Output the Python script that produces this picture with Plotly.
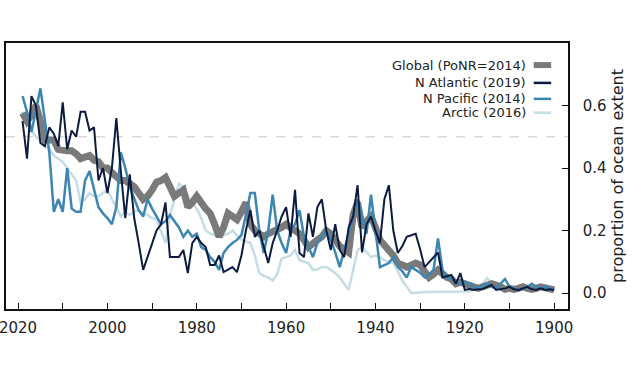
import plotly.graph_objects as go

years = list(range(1900, 2020))

global_ponr = [
    0.010, 0.012, 0.015, 0.020, 0.015, 0.012, 0.015, 0.020, 0.015, 0.012,
    0.015, 0.012, 0.020, 0.025, 0.030, 0.025, 0.020, 0.015, 0.020, 0.025,
    0.030, 0.035, 0.030, 0.045, 0.050, 0.065, 0.074, 0.060, 0.050, 0.070,
    0.090, 0.096, 0.090, 0.083, 0.090, 0.096, 0.120, 0.138, 0.160, 0.170,
    0.210, 0.245, 0.230, 0.210, 0.290, 0.250, 0.130, 0.140, 0.150, 0.170,
    0.190, 0.200, 0.180, 0.170, 0.155, 0.147, 0.170, 0.190, 0.200, 0.210,
    0.220, 0.210, 0.205, 0.200, 0.190, 0.180, 0.190, 0.200, 0.220, 0.290,
    0.260, 0.235, 0.245, 0.255, 0.210, 0.180, 0.220, 0.255, 0.270, 0.290,
    0.310, 0.290, 0.275, 0.330, 0.320, 0.310, 0.340, 0.370, 0.360, 0.355,
    0.330, 0.310, 0.300, 0.320, 0.340, 0.350, 0.360, 0.360, 0.370, 0.385,
    0.400, 0.400, 0.420, 0.425, 0.440, 0.435, 0.430, 0.445, 0.455, 0.455,
    0.460, 0.460, 0.490, 0.490, 0.490, 0.550, 0.600, 0.570, 0.550, 0.576,
]

n_atlantic = [
    0.010, 0.012, 0.010, 0.015, 0.010, 0.012, 0.020, 0.015, 0.010, 0.012,
    0.020, 0.015, 0.012, 0.010, 0.026, 0.020, 0.013, 0.012, 0.010, 0.013,
    0.010, 0.064, 0.030, 0.058, 0.055, 0.050, 0.130, 0.115, 0.100, 0.083,
    0.140, 0.190, 0.185, 0.180, 0.150, 0.128, 0.200, 0.345, 0.300, 0.160,
    0.200, 0.245, 0.220, 0.130, 0.345, 0.245, 0.210, 0.115, 0.138, 0.220,
    0.138, 0.200, 0.300, 0.275, 0.180, 0.255, 0.115, 0.128, 0.330, 0.180,
    0.275, 0.245, 0.200, 0.160, 0.096, 0.150, 0.200, 0.180, 0.265, 0.200,
    0.120, 0.067, 0.083, 0.075, 0.067, 0.120, 0.090, 0.090, 0.147, 0.160,
    0.180, 0.160, 0.064, 0.138, 0.115, 0.115, 0.115, 0.290, 0.220, 0.200,
    0.160, 0.120, 0.074, 0.160, 0.240, 0.380, 0.240, 0.390, 0.560, 0.400,
    0.320, 0.400, 0.360, 0.530, 0.520, 0.580, 0.580, 0.500, 0.520, 0.460,
    0.610, 0.470, 0.510, 0.530, 0.470, 0.480, 0.600, 0.630, 0.430, 0.550,
]

n_pacific = [
    0.010, 0.015, 0.020, 0.015, 0.020, 0.030, 0.020, 0.015, 0.010, 0.015,
    0.020, 0.045, 0.030, 0.015, 0.020, 0.030, 0.025, 0.015, 0.020, 0.030,
    0.035, 0.030, 0.040, 0.045, 0.050, 0.074, 0.175, 0.074, 0.060, 0.050,
    0.065, 0.074, 0.083, 0.050, 0.070, 0.083, 0.115, 0.096, 0.090, 0.083,
    0.200, 0.315, 0.190, 0.250, 0.300, 0.245, 0.190, 0.138, 0.083, 0.130,
    0.170, 0.200, 0.180, 0.160, 0.115, 0.150, 0.180, 0.265, 0.220, 0.200,
    0.128, 0.160, 0.200, 0.315, 0.200, 0.128, 0.200, 0.320, 0.320, 0.250,
    0.185, 0.170, 0.160, 0.147, 0.128, 0.074, 0.100, 0.115, 0.138, 0.147,
    0.190, 0.180, 0.200, 0.180, 0.210, 0.230, 0.250, 0.230, 0.220, 0.245,
    0.270, 0.300, 0.245, 0.265, 0.300, 0.340, 0.400, 0.450, 0.275, 0.220,
    0.240, 0.255, 0.275, 0.330, 0.390, 0.360, 0.260, 0.260, 0.270, 0.400,
    0.260, 0.300, 0.260, 0.450, 0.555, 0.655, 0.585, 0.515, 0.580, 0.630,
]

arctic = [
    0.020, 0.015, 0.010, 0.020, 0.025, 0.020, 0.015, 0.010, 0.015, 0.020,
    0.015, 0.010, 0.015, 0.020, 0.030, 0.048, 0.030, 0.020, 0.010, 0.005,
    0.005, 0.005, 0.003, 0.005, 0.004, 0.003, 0.005, 0.003, 0.003, 0.003,
    0.002, 0.001, 0.000, 0.020, 0.040, 0.070, 0.096, 0.100, 0.105, 0.115,
    0.120, 0.115, 0.130, 0.147, 0.138, 0.070, 0.010, 0.030, 0.050, 0.064,
    0.075, 0.083, 0.083, 0.075, 0.074, 0.096, 0.100, 0.105, 0.138, 0.120,
    0.115, 0.110, 0.060, 0.040, 0.050, 0.055, 0.064, 0.120, 0.160, 0.165,
    0.170, 0.185, 0.200, 0.190, 0.185, 0.180, 0.185, 0.190, 0.200, 0.240,
    0.270, 0.290, 0.310, 0.340, 0.350, 0.300, 0.250, 0.160, 0.200, 0.235,
    0.240, 0.250, 0.255, 0.265, 0.260, 0.250, 0.260, 0.245, 0.275, 0.300,
    0.330, 0.320, 0.310, 0.310, 0.320, 0.300, 0.290, 0.360, 0.380, 0.400,
    0.420, 0.430, 0.440, 0.460, 0.470, 0.490, 0.500, 0.520, 0.550, 0.580,
]

series_names = ["Global (PoNR=2014)", "N Atlantic (2019)", "N Pacific (2014)", "Arctic (2016)"]
series_colors = ["#7a7a7a", "#0c1b3f", "#3d86b1", "#c6dde6"]
series_widths = [7, 2, 2.5, 2.5]
x_tick_vals = [1900, 1920, 1940, 1960, 1980, 2000, 2020]
y_tick_vals = [0.0, 0.2, 0.4, 0.6]
threshold = 0.5
y_title = "proportion of ocean extent"

data_map = {
    series_names[0]: global_ponr,
    series_names[1]: n_atlantic,
    series_names[2]: n_pacific,
    series_names[3]: arctic,
}

fig = go.Figure()
draw_order = [3, 0, 2, 1]
for i in draw_order:
    name = series_names[i]
    fig.add_trace(go.Scatter(
        x=years, y=data_map[name], mode="lines", name=name,
        line=dict(color=series_colors[i], width=series_widths[i]),
        showlegend=False,
    ))

# threshold dashed line
fig.add_shape(type="line", xref="paper", x0=0, x1=1, yref="y", y0=threshold, y1=threshold,
              line=dict(color="#c8c8c8", width=1, dash="dash"), layer="below")

# manual legend (symbol on the right of the text)
leg_y = [0.917, 0.850, 0.790, 0.738]
for i, name in enumerate(series_names):
    fig.add_shape(type="line", xref="paper", yref="paper",
                  x0=0.939, x1=0.970, y0=leg_y[i], y1=leg_y[i],
                  line=dict(color=series_colors[i], width=6 if i == 0 else 2.5))
    fig.add_annotation(xref="paper", yref="paper", x=0.928, y=leg_y[i],
                       xanchor="right", yanchor="middle", text=name, showarrow=False,
                       font=dict(size=13, color="#222222", family="DejaVu Sans"))

fig.update_layout(
    width=636, height=382,
    margin=dict(l=6, r=68, t=43, b=73),
    plot_bgcolor="white", paper_bgcolor="white",
    font=dict(family="DejaVu Sans", size=14, color="#222222"),
    showlegend=False,
)
fig.update_xaxes(
    range=[2022.7, 1896.9], tickvals=x_tick_vals, ticks="inside", ticklen=6,
    tickwidth=1.2, tickcolor="#111111", automargin=False, ticklabeloverflow="allow",
    minor=dict(dtick=10, tick0=1900, ticks="inside", ticklen=6, tickwidth=1.2, tickcolor="#111111"),
    showgrid=False, zeroline=False, showline=True, linecolor="#111111", linewidth=1.5,
    mirror=True, tickfont=dict(size=15), ticklabelstandoff=4,
)
fig.update_yaxes(
    range=[-0.051, 0.80], side="right", tickvals=y_tick_vals, tickformat=".1f",
    ticks="inside", ticklen=6, tickwidth=1.2, tickcolor="#111111", automargin=False,
    showgrid=False, zeroline=False, showline=True, linecolor="#111111", linewidth=1.5,
    mirror=True, tickfont=dict(size=15), ticklabelstandoff=10,
    title=dict(text=y_title, font=dict(size=16), standoff=6),
)

fig.write_html("out.html", config={"displayModeBar": False},
               post_script="document.body.style.margin='0px';")
